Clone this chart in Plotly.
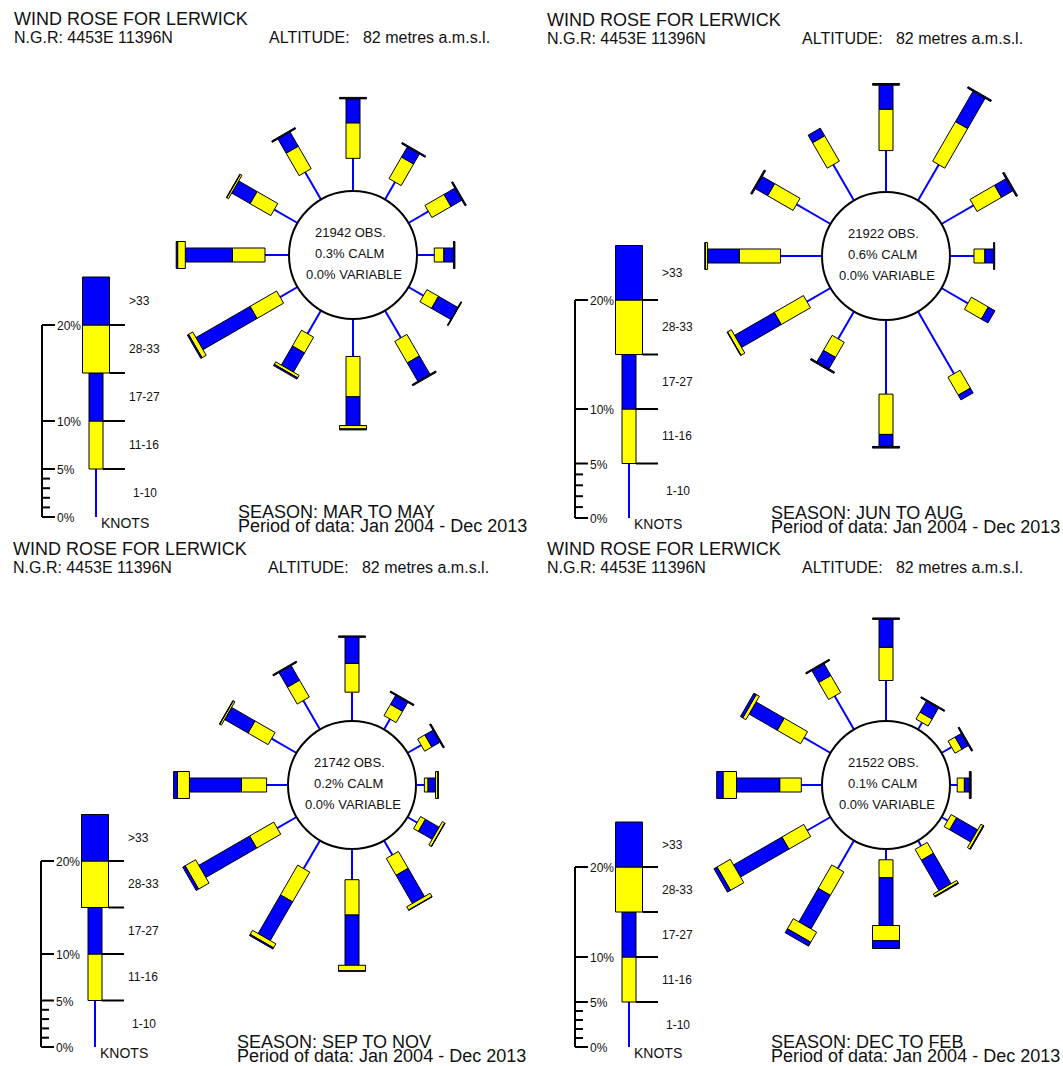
import numpy as np
import plotly.graph_objects as go

# ---------------- DATA ----------------
DIRECTIONS_DEG = [0, 30, 60, 90, 120, 150, 180, 210, 240, 270, 300, 330]
SPEED_CLASSES = ["1-10", "11-16", "17-27", "28-33", ">33"]
SEASONS = ["MAR TO MAY", "JUN TO AUG", "SEP TO NOV", "DEC TO FEB"]
OBSERVATIONS = [21942, 21922, 21742, 21522]
CALM_PCT = [0.3, 0.6, 0.2, 0.1]
VARIABLE_PCT = [0.0, 0.0, 0.0, 0.0]
STATION = "LERWICK"
NGR = "4453E 11396N"
ALTITUDE_M = 82
PERIOD = "Jan 2004 - Dec 2013"
LEGEND_PCT = [5, 5, 5, 5, 5]
AXIS_LABEL_TICKS = [0, 5, 10, 20]
AXIS_MINOR_TICKS = [1, 2, 3, 4]

# percentage frequency per direction (N, 030, 060, ... 330)
MAM_1_10 = [3.4, 2.1, 2.4, 1.8, 1.8, 3.3, 3.9, 2.8, 2.1, 2.5, 2.8, 3.3]
MAM_11_16 = [3.7, 2.6, 2.3, 1.0, 1.4, 2.6, 4.2, 1.9, 3.2, 3.4, 2.5, 2.7]
MAM_17_27 = [2.5, 1.2, 1.3, 1.0, 2.3, 2.2, 3.0, 2.3, 6.5, 4.9, 2.2, 1.7]
MAM_28_33 = [0.05, 0.05, 0.05, 0.05, 0.05, 0.05, 0.35, 0.3, 0.5, 0.8, 0.2, 0.05]
MAM_GT33 = [0.1, 0.1, 0.1, 0.1, 0.05, 0.1, 0.1, 0.15, 0.15, 0.15, 0.05, 0.1]

JJA_1_10 = [3.8, 3.8, 3.4, 2.2, 2.8, 6.6, 6.8, 2.9, 2.5, 3.8, 3.6, 3.8]
JJA_11_16 = [3.8, 4.2, 2.6, 1.0, 1.8, 1.9, 3.7, 1.6, 3.1, 3.8, 2.7, 2.7]
JJA_17_27 = [2.2, 3.2, 1.2, 0.8, 0.7, 0.5, 1.1, 1.2, 4.2, 2.9, 1.3, 0.8]
JJA_28_33 = [0.05, 0.05, 0.05, 0.0, 0.0, 0.0, 0.05, 0.05, 0.4, 0.2, 0.05, 0.0]
JJA_GT33 = [0.1, 0.1, 0.1, 0.1, 0.0, 0.0, 0.1, 0.1, 0.05, 0.05, 0.1, 0.0]

SON_1_10 = [3.1, 1.3, 1.7, 0.9, 1.2, 1.8, 3.3, 3.5, 2.4, 2.3, 3.1, 3.6]
SON_11_16 = [3.1, 1.4, 0.9, 0.4, 0.6, 2.1, 3.8, 3.7, 3.0, 2.7, 2.5, 2.1]
SON_17_27 = [2.8, 1.1, 1.0, 0.8, 1.7, 3.5, 5.4, 4.8, 6.3, 5.6, 2.9, 1.8]
SON_28_33 = [0.05, 0.05, 0.05, 0.25, 0.3, 0.4, 0.6, 0.5, 1.3, 1.3, 0.2, 0.05]
SON_GT33 = [0.1, 0.1, 0.1, 0.05, 0.05, 0.05, 0.05, 0.15, 0.3, 0.4, 0.05, 0.1]

DJF_1_10 = [4.5, 0.9, 1.3, 0.8, 0.8, 0.7, 1.2, 3.6, 3.0, 2.3, 3.4, 4.3]
DJF_11_16 = [3.7, 0.9, 0.9, 0.8, 0.7, 1.4, 2.0, 3.0, 2.8, 2.4, 3.0, 2.2]
DJF_17_27 = [3.1, 1.4, 0.8, 0.55, 2.7, 3.9, 5.3, 4.3, 6.2, 4.8, 3.6, 1.5]
DJF_28_33 = [0.05, 0.05, 0.05, 0.1, 0.3, 0.3, 1.7, 1.3, 1.7, 1.5, 0.4, 0.05]
DJF_GT33 = [0.1, 0.1, 0.1, 0.1, 0.1, 0.1, 0.85, 0.5, 0.4, 0.7, 0.3, 0.1]

SEASON_TABLE = [
    [MAM_1_10, MAM_11_16, MAM_17_27, MAM_28_33, MAM_GT33],
    [JJA_1_10, JJA_11_16, JJA_17_27, JJA_28_33, JJA_GT33],
    [SON_1_10, SON_11_16, SON_17_27, SON_28_33, SON_GT33],
    [DJF_1_10, DJF_11_16, DJF_17_27, DJF_28_33, DJF_GT33],
]

# ---------------- LAYOUT / STYLE ----------------
W, H = 1063, 1066
PANEL_CENTERS = [(353, 255), (886, 256), (352, 785), (886, 785)]
PANEL_SCALE = [9.6, 10.9, 9.3, 9.0]   # pixels per percent
R_CIRCLE = 64
HALF_W = [0, 7, 7, 13.5, 13.5]
BLUE = "#0000ff"
YELLOW = "#ffff00"
CLASS_COLOR = [BLUE, YELLOW, BLUE, YELLOW, BLUE]
FONT = "Liberation Sans, Arial, sans-serif"
TXT = "#111111"

fig = go.Figure()
store = [([], []) for _ in range(5)]


def stack_geometry(cx, cy, r0, scale, theta_deg, pcts):
    t = np.deg2rad(theta_deg)
    ux, uy = np.sin(t), -np.cos(t)
    vx, vy = np.cos(t), np.sin(t)
    r = r0
    bounds = []
    for k, p in enumerate(pcts):
        r1 = r + p * scale
        if p > 0:
            xs, ys = store[k]
            if k == 0:
                xs += [cx + ux * r, cx + ux * r1, None]
                ys += [cy + uy * r, cy + uy * r1, None]
            else:
                hw = HALF_W[k]
                pts = [(r, hw), (r1, hw), (r1, -hw), (r, -hw), (r, hw)]
                for rr, ww in pts:
                    xs.append(cx + ux * rr + vx * ww)
                    ys.append(cy + uy * rr + vy * ww)
                xs.append(None)
                ys.append(None)
        bounds.append((r, r1))
        r = r1
    return bounds


annotations = []
shapes = []


def add_text(x, y, text, size, xanchor="left"):
    annotations.append(dict(x=x, y=y, xref="x", yref="y", text=text, showarrow=False,
                            xanchor=xanchor, yanchor="middle",
                            font=dict(family=FONT, size=size, color=TXT)))


axis_lines_x, axis_lines_y = [], []

for i, (cx, cy) in enumerate(PANEL_CENTERS):
    s = PANEL_SCALE[i]
    table = SEASON_TABLE[i]
    # rose spokes
    for d, theta in enumerate(DIRECTIONS_DEG):
        pcts = [table[k][d] for k in range(5)]
        stack_geometry(cx, cy, R_CIRCLE, s, theta, pcts)
    # central circle
    shapes.append(dict(type="circle", xref="x", yref="y",
                       x0=cx - R_CIRCLE, x1=cx + R_CIRCLE, y0=cy - R_CIRCLE, y1=cy + R_CIRCLE,
                       line=dict(color="black", width=2), fillcolor="white", layer="above"))
    add_text(cx - 3, cy - 23, f"{OBSERVATIONS[i]} OBS.", 13, "center")
    add_text(cx - 4, cy - 2, f"{CALM_PCT[i]:.1f}% CALM", 13, "center")
    add_text(cx + 1, cy + 19, f"{VARIABLE_PCT[i]:.1f}% VARIABLE", 13, "center")

    # headers
    add_text(cx - 341, cy - 236, f"WIND ROSE FOR {STATION}", 18)
    add_text(cx - 341, cy - 218, f"N.G.R: {NGR}", 16)
    add_text(cx - 86, cy - 218, f"ALTITUDE:\u00a0\u00a0 {ALTITUDE_M} metres a.m.s.l.", 16)
    add_text(cx - 117, cy + 257, f"SEASON: {SEASONS[i]}", 18)
    add_text(cx - 117, cy + 271, f"Period of data: {PERIOD}", 18)

    # legend
    ax_x = cx - 311
    bar_x = ax_x + 54
    y0 = cy + 262
    bounds = stack_geometry(bar_x, y0, 0, s, 0, LEGEND_PCT)
    # scale axis
    axis_lines_x += [ax_x, ax_x, None]
    axis_lines_y += [y0, y0 - 20 * s, None]
    for tv in AXIS_LABEL_TICKS:
        axis_lines_x += [ax_x, ax_x + 13, None]
        axis_lines_y += [y0 - tv * s, y0 - tv * s, None]
        add_text(ax_x + 13, y0 - tv * s + 1, f"{tv}%", 12)
    for tv in AXIS_MINOR_TICKS:
        axis_lines_x += [ax_x, ax_x + 8, None]
        axis_lines_y += [y0 - tv * s, y0 - tv * s, None]
    # class boundary ticks and labels
    for k in range(1, 5):
        yb = y0 - bounds[k][0] * 1.0
        axis_lines_x += [bar_x + HALF_W[k], bar_x + 29, None]
        axis_lines_y += [y0 - (bounds[k][0] - 0), y0 - (bounds[k][0] - 0), None]
    for k in range(5):
        ym = y0 - (bounds[k][0] + bounds[k][1]) / 2
        add_text(bar_x + (35 if k == 0 else 31), ym, SPEED_CLASSES[k], 12)
    add_text(bar_x + 3, y0 + 6, "KNOTS", 14)

# legend bounds are radial distances from y0; fix tick y coordinates (they were computed as y0 - r)
# traces
xs, ys = store[0]
fig.add_trace(go.Scatter(x=xs, y=ys, mode="lines", line=dict(color=BLUE, width=2),
                         hoverinfo="skip", showlegend=False))
for k in range(1, 5):
    xs, ys = store[k]
    fig.add_trace(go.Scatter(x=xs, y=ys, mode="lines", fill="toself", fillcolor=CLASS_COLOR[k],
                             line=dict(color="black", width=1), hoverinfo="skip", showlegend=False))
fig.add_trace(go.Scatter(x=axis_lines_x, y=axis_lines_y, mode="lines",
                         line=dict(color="black", width=2), hoverinfo="skip", showlegend=False))

fig.update_layout(
    width=W, height=H, margin=dict(l=0, r=0, t=0, b=0),
    paper_bgcolor="white", plot_bgcolor="white",
    xaxis=dict(range=[0, W], visible=False, fixedrange=True),
    yaxis=dict(range=[H, 0], visible=False, fixedrange=True),
    annotations=annotations, shapes=shapes, showlegend=False,
)
fig.write_html("out.html", post_script="document.body.style.margin='0';",
               config={"displayModeBar": False})
